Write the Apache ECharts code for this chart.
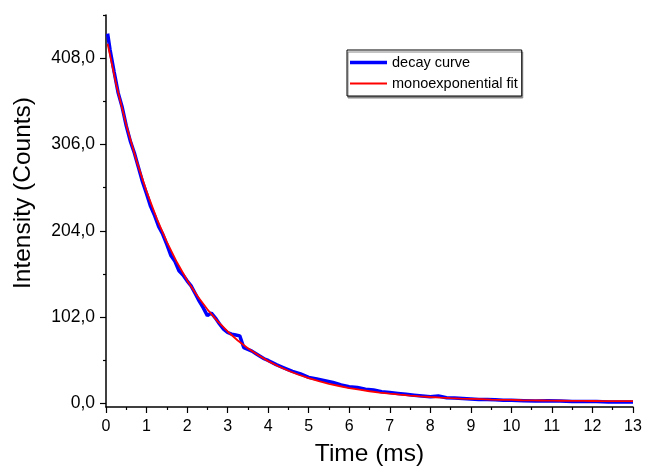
<!DOCTYPE html>
<html><head><meta charset="utf-8">
<script src="https://cdn.jsdelivr.net/npm/echarts@6/dist/echarts.min.js"></script>
<style>html,body{margin:0;padding:0;background:#fff}#c{width:646px;height:469px}</style>
</head><body><div id="c"></div>
<script>
const decayTime = [0.04,0.1,0.2,0.3,0.4,0.5,0.6,0.7,0.8,0.9,1.0,1.1,1.2,1.3,1.4,1.5,1.6,1.7,1.8,1.9,2.0,2.1,2.2,2.3,2.4,2.5,2.6,2.7,2.8,2.9,3.0,3.1,3.2,3.3,3.4,3.5,3.6,3.7,3.8,3.9,4.0,4.2,4.4,4.6,4.8,5.0,5.2,5.4,5.6,5.8,6.0,6.2,6.4,6.6,6.8,7.0,7.2,7.4,7.6,7.8,8.0,8.2,8.4,8.6,8.8,9.0,9.2,9.4,9.6,9.8,10.0,10.3,10.6,10.9,11.2,11.5,11.8,12.1,12.4,12.7,13.0];
const decayCounts = [437,418,392,367,350,328,310,296,279,262,248,233,222,209,200,188,175,168,157,152,145,139,130,121,113,104,107,101,94,88,84,82,81,80,66,64,62,59,56,53,51,46,42,38,35,31,29,27,25,22,20,19,17,16,14,13,12,11,10,9,8,9,7,6.5,6,5.5,5,5,4.5,4,4,3.5,3,3.5,3,2.5,2.5,2.5,2,2,2];
const fitTime = [0.04,0.25,0.5,0.75,1.0,1.25,1.5,1.75,2.0,2.25,2.5,2.75,3.0,3.25,3.5,3.75,4.0,4.25,4.5,4.75,5.0,5.25,5.5,5.75,6.0,6.25,6.5,6.75,7.0,7.25,7.5,7.75,8.0,8.25,8.5,8.75,9.0,9.25,9.5,9.75,10.0,10.25,10.5,10.75,11.0,11.25,11.5,11.75,12.0,12.25,12.5,12.75,13.0];
const fitCounts = [425,377.3,329.2,287.3,250.7,218.9,191.1,166.9,145.8,127.4,111.4,97.4,85.2,74.6,65.3,57.3,50.2,44.1,38.8,34.1,30.1,26.5,23.4,20.8,18.4,16.4,14.6,13.0,11.7,10.5,9.5,8.6,7.8,7.1,6.5,6.0,5.6,5.2,4.8,4.5,4.3,4.0,3.8,3.7,3.5,3.4,3.3,3.2,3.1,3.0,2.95,2.9,2.85];
const yTickValues = [0,102,204,306,408];
const yMinorTickValues = [51,153,255,357,459];
const seriesNames = ['decay curve','monoexponential fit'];

const FONT = 'Arial, "Liberation Sans", sans-serif';
const chart = echarts.init(document.getElementById('c'));
const toPairs = (xs, ys) => xs.map((x, i) => [x, ys[i]]);
const yAxisBase = {
  type: 'value', min: -4, max: 459, position: 'left',
  splitLine: { show: false }
};
chart.setOption({
  animation: false,
  backgroundColor: '#fff',
  textStyle: { fontFamily: FONT },
  grid: { left: 106, right: 13, top: 15, bottom: 62, containLabel: false, outerBoundsMode: 'none' },
  legend: {
    data: [
      { name: seriesNames[0], icon: 'path://M0 0H37V3.5H0Z' },
      { name: seriesNames[1], icon: 'path://M0 0H37V1.8H0Z' }
    ],
    orient: 'vertical', left: 347, top: 50,
    itemWidth: 37, itemHeight: 14, itemGap: 6,
    padding: [5, 4, 5, 3],
    borderColor: '#000', borderWidth: 1, backgroundColor: '#fff',
    shadowColor: '#888', shadowOffsetX: 1, shadowOffsetY: 2, shadowBlur: 0,
    textStyle: { fontSize: 14.5, color: '#000', fontFamily: FONT }
  },
  xAxis: {
    type: 'value', min: 0, max: 13, interval: 1,
    name: 'Time (ms)', nameLocation: 'middle', nameGap: 35,
    nameTextStyle: { fontSize: 24.5, color: '#000', fontFamily: FONT },
    axisLine: { show: true, onZero: false, lineStyle: { color: '#000', width: 1.5 } },
    axisTick: { show: true, length: 6, lineStyle: { color: '#000', width: 1.2 } },
    minorTick: { show: true, splitNumber: 2, length: 3, lineStyle: { color: '#000', width: 1.2 } },
    axisLabel: { fontSize: 16, color: '#000', margin: 12, fontFamily: FONT },
    splitLine: { show: false }
  },
  yAxis: [
    Object.assign({}, yAxisBase, {
      name: 'Intensity (Counts)', nameLocation: 'middle', nameGap: 70,
      nameTextStyle: { fontSize: 24.5, color: '#000', fontFamily: FONT, padding: [0, 0, 0, 36] },
      axisLine: { show: true, onZero: false, lineStyle: { color: '#000', width: 1.5 } },
      axisTick: { show: true, length: 6, customValues: yTickValues, lineStyle: { color: '#000', width: 1.2 } },
      axisLabel: { fontSize: 17.5, color: '#000', margin: 11, fontFamily: FONT,
        customValues: yTickValues,
        formatter: v => v.toFixed(1).replace('.', ',') }
    }),
    Object.assign({}, yAxisBase, {
      axisLine: { show: false },
      axisTick: { show: true, length: 3, customValues: yMinorTickValues, lineStyle: { color: '#000', width: 1.2 } },
      axisLabel: { show: false }
    })
  ],
  series: [
    { name: seriesNames[0], type: 'line', yAxisIndex: 0, showSymbol: false, symbol: 'none',
      data: toPairs(decayTime, decayCounts),
      lineStyle: { color: '#0000ff', width: 3.5 }, itemStyle: { color: '#0000ff' } },
    { name: seriesNames[1], type: 'line', yAxisIndex: 0, showSymbol: false, symbol: 'none',
      data: toPairs(fitTime, fitCounts),
      lineStyle: { color: '#ff0000', width: 1.8 }, itemStyle: { color: '#ff0000' } }
  ]
});
</script>
</body></html>
